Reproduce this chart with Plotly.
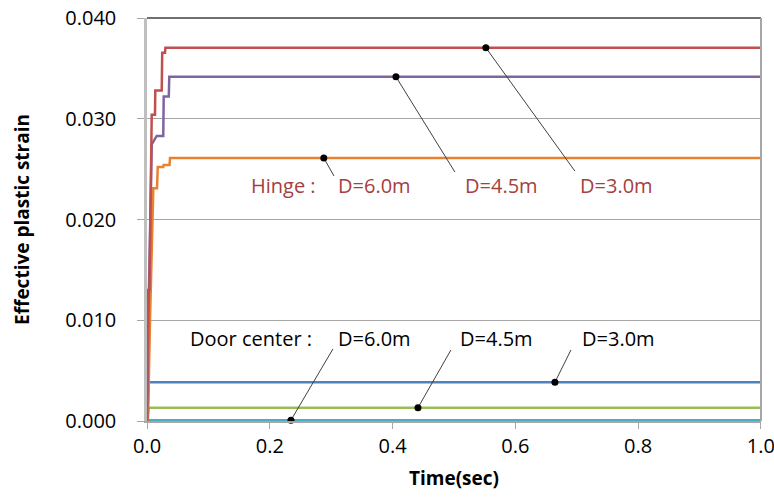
import plotly.graph_objects as go

# Hinge series (step-like rise then plateau)
t_h30 = [0.0, 0.0016, 0.004, 0.0077, 0.013, 0.0135, 0.024, 0.0248, 0.0293, 0.030, 1.0]
y_h30 = [0.0, 0.0130, 0.0130, 0.0304, 0.0304, 0.0328, 0.0328, 0.03656, 0.03656, 0.03705, 0.03705]

t_h45 = [0.0, 0.0025, 0.0077, 0.0158, 0.0265, 0.0272, 0.0355, 0.0363, 1.0]
y_h45 = [0.0, 0.0110, 0.02747, 0.0283, 0.0283, 0.0322, 0.0322, 0.03417, 0.03417]

t_h60 = [0.0, 0.0016, 0.005, 0.0103, 0.0163, 0.0175, 0.0265, 0.0272, 0.0367, 0.0375, 1.0]
y_h60 = [0.0, 0.0, 0.0103, 0.0231, 0.0231, 0.0252, 0.0252, 0.0254, 0.0254, 0.0261, 0.0261]

# Door center series
t_d30 = [0.0, 0.003, 1.0]
y_d30 = [0.0, 0.00384, 0.00384]
t_d45 = [0.0, 0.003, 1.0]
y_d45 = [0.0, 0.00132, 0.00132]
t_d60 = [0.0, 0.003, 1.0]
y_d60 = [0.0, 0.00008, 0.00008]

# Axis ticks
x_ticks = [0.0, 0.2, 0.4, 0.6, 0.8, 1.0]
y_ticks = [0.0, 0.01, 0.02, 0.03, 0.04]

# Callout positions (time of dot, label leader end)
hinge_labels = ["D=6.0m", "D=4.5m", "D=3.0m"]
hinge_dot_t = [0.288, 0.4055, 0.552]
hinge_end_t = [0.3046, 0.5016, 0.697]
hinge_end_y = [0.02432, 0.02471, 0.02481]
hinge_lab_t = [0.3078, 0.5147, 0.702]
hinge_lab_y = 0.02342

door_labels = ["D=6.0m", "D=4.5m", "D=3.0m"]
door_dot_t = [0.2345, 0.4414, 0.6645]
door_end_t = [0.3029, 0.4951, 0.6906]
door_end_y = [0.00715, 0.00705, 0.00705]
door_lab_t = [0.3078, 0.5065, 0.7052]
door_lab_y = 0.00814

c_red = "#C0504D"
c_purple = "#8064A2"
c_orange = "#E8822F"
c_blue = "#4F81BD"
c_green = "#9BBB59"
c_cyan = "#4BACC6"

FONT = "Open Sans"
LAB = 20

fig = go.Figure()
for t, y, c in [(t_d60, y_d60, c_cyan), (t_d45, y_d45, c_green), (t_d30, y_d30, c_blue),
                (t_h60, y_h60, c_orange), (t_h45, y_h45, c_purple), (t_h30, y_h30, c_red)]:
    fig.add_trace(go.Scatter(x=t, y=y, mode="lines", line=dict(color=c, width=2.5),
                             showlegend=False, hoverinfo="skip"))

hinge_final = [y_h60[-1], y_h45[-1], y_h30[-1]]
door_final = [y_d60[-1], y_d45[-1], y_d30[-1]]

# leader lines
for i in range(3):
    fig.add_trace(go.Scatter(x=[hinge_dot_t[i], hinge_end_t[i]], y=[hinge_final[i], hinge_end_y[i]],
                             mode="lines", line=dict(color="#404040", width=1), showlegend=False, hoverinfo="skip"))
    fig.add_trace(go.Scatter(x=[door_dot_t[i], door_end_t[i]], y=[door_final[i], door_end_y[i]],
                             mode="lines", line=dict(color="#404040", width=1), showlegend=False, hoverinfo="skip"))

fig.add_trace(go.Scatter(x=hinge_dot_t + door_dot_t, y=hinge_final + door_final, mode="markers",
                         marker=dict(color="black", size=7), showlegend=False, hoverinfo="skip",
                         cliponaxis=False))

annos = []
annos.append(dict(x=0.1661, y=hinge_lab_y, text="Hinge :", showarrow=False, xanchor="left",
                  font=dict(family=FONT, size=LAB, color="#A5403E")))
for i in range(3):
    annos.append(dict(x=hinge_lab_t[i], y=hinge_lab_y, text=hinge_labels[i], showarrow=False, xanchor="left",
                      font=dict(family=FONT, size=LAB, color="#A5403E")))
annos.append(dict(x=0.0668, y=door_lab_y, text="Door center :", showarrow=False, xanchor="left",
                  font=dict(family=FONT, size=LAB, color="black")))
for i in range(3):
    annos.append(dict(x=door_lab_t[i], y=door_lab_y, text=door_labels[i], showarrow=False, xanchor="left",
                      font=dict(family=FONT, size=LAB, color="black")))

fig.update_layout(
    width=774, height=497,
    margin=dict(l=147, r=13, t=18, b=76),
    plot_bgcolor="white", paper_bgcolor="white",
    annotations=annos,
    shapes=[
        dict(type="line", xref="paper", yref="paper", x0=0, x1=1, y0=1, y1=1,
             line=dict(color="#404040", width=1.5)),
        dict(type="line", xref="paper", yref="paper", x0=1, x1=1, y0=0, y1=1,
             line=dict(color="#A6A6A6", width=2)),
    ],
    xaxis=dict(range=[0, 1.0002], tickvals=x_ticks, ticktext=[f"{v:.1f}" for v in x_ticks], showgrid=False,
               showline=True, linecolor="#A6A6A6", linewidth=1.5, automargin=False,
               ticks="outside", ticklen=6, tickcolor="#A6A6A6", ticklabelstandoff=0,
               ticklabeloverflow="allow",
               tickfont=dict(family=FONT, size=20, color="black"), zeroline=False,
               title=dict(text="<b>Time(sec)</b>", font=dict(family=FONT, size=19, color="black"), standoff=14)),
    yaxis=dict(range=[0, 0.04], tickvals=y_ticks, ticktext=[f"{v:.3f}" for v in y_ticks],
               showgrid=True, gridcolor="#A6A6A6", gridwidth=1, automargin=False,
               showline=True, linecolor="#BFBFBF", linewidth=2.5,
               ticks="outside", ticklen=7, tickcolor="#A6A6A6", ticklabelstandoff=17,
               tickfont=dict(family=FONT, size=20, color="black"), zeroline=False,
               title=dict(text="<b>Effective plastic strain</b>", font=dict(family=FONT, size=19, color="black"), standoff=31)),
)

fig.write_html("out.html")
